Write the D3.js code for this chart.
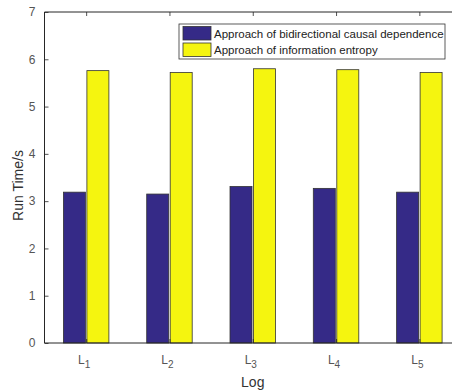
<html>
<head>
<script src="https://d3js.org/d3.v7.min.js"></script>
<style>
  body { margin: 0; background: #fff; }
  svg { font-family: "Liberation Sans", Arial, sans-serif; }
</style>
</head>
<body>
<div id="chart"></div>
<script>
var categories = ['1', '2', '3', '4', '5'];
var seriesNames = ['Approach of bidirectional causal dependence', 'Approach of information entropy'];
var causal = [3.19, 3.15, 3.31, 3.27, 3.19];
var entropy = [5.76, 5.72, 5.80, 5.78, 5.72];
var yTicks = [0, 1, 2, 3, 4, 5, 6, 7];
var colors = ['#352a87', '#f5f50f'];

var width = 452, height = 391;
// note: "top" is reserved on window, so use plot* names
var plotLeft = 44.5, plotRight = 461, plotTop = 12, plotBottom = 343;

var svg = d3.select('#chart').append('svg')
    .attr('width', width)
    .attr('height', height);

// category positions, xlim [0.5, 5.5] like matlab
var x = d3.scaleLinear().domain([0.5, 5.5]).range([plotLeft, plotRight]);
var y = d3.scaleLinear().domain([0, 7]).range([plotBottom, plotTop]);

var barW = x(0.264) - x(0);
var offset = x(0.141) - x(0);

var rows = categories.map(function(c, i) {
    return { cat: i + 1, label: c, vals: [causal[i], entropy[i]] };
});

var groups = svg.selectAll('g.grp').data(rows).enter().append('g');
groups.selectAll('rect').data(function(d) {
        return d.vals.map(function(v, k) { return { cat: d.cat, v: v, k: k }; });
    })
    .enter().append('rect')
    .attr('x', function(d) { return x(d.cat) + (d.k == 0 ? -offset : offset) - barW / 2; })
    .attr('y', function(d) { return y(d.v); })
    .attr('width', barW)
    .attr('height', function(d) { return y(0) - y(d.v); })
    .attr('fill', function(d) { return colors[d.k]; })
    .attr('stroke', '#333')
    .attr('stroke-width', 0.8);

// axes with inward ticks
var axisColor = '#262626';
var yAxis = svg.append('g')
    .attr('transform', 'translate(' + plotLeft + ',0)')
    .call(d3.axisLeft(y).tickValues(yTicks).tickSize(-4).tickPadding(9).tickFormat(d3.format('d')));
var xAxis = svg.append('g')
    .attr('transform', 'translate(0,' + plotBottom + ')')
    .call(d3.axisBottom(x).tickValues([1, 2, 3, 4, 5]).tickSize(-4).tickFormat(''));
var topAxis = svg.append('g')
    .attr('transform', 'translate(0,' + plotTop + ')')
    .call(d3.axisTop(x).tickValues([1, 2, 3, 4, 5]).tickSize(-4).tickFormat(''));

[yAxis, xAxis, topAxis].forEach(function(a) {
    a.select('.domain').attr('stroke', axisColor).attr('stroke-width', 1);
    a.selectAll('.tick line').attr('stroke', axisColor).attr('stroke-width', 0.8);
    a.selectAll('text').attr('fill', '#555').style('font-size', '12px');
});
yAxis.select('.domain').attr('d', 'M0,' + plotTop + 'V' + plotBottom);
xAxis.select('.domain').attr('d', 'M' + plotLeft + ',0H' + plotRight);
topAxis.select('.domain').attr('d', 'M' + plotLeft + ',0H' + plotRight);

// category labels with subscripts
rows.forEach(function(d) {
    var t = svg.append('text')
        .attr('x', x(d.cat) - 2)
        .attr('y', 364)
        .attr('text-anchor', 'middle')
        .attr('fill', '#555')
        .style('font-size', '12px');
    t.append('tspan').text('L');
    t.append('tspan').attr('dy', 4).style('font-size', '10px').text(d.label);
});

svg.append('text')
    .attr('x', x(3))
    .attr('y', 387)
    .attr('text-anchor', 'middle')
    .attr('fill', '#333')
    .style('font-size', '14px')
    .text('Log');

svg.append('text')
    .attr('transform', 'translate(23,' + ((plotTop + plotBottom) / 2 + 8) + ') rotate(-90)')
    .attr('text-anchor', 'middle')
    .attr('fill', '#333')
    .style('font-size', '14px')
    .text('Run Time/s');

// legend
var legend = svg.append('g');
legend.append('rect')
    .attr('x', 179).attr('y', 24)
    .attr('width', 266).attr('height', 35)
    .attr('fill', '#fff')
    .attr('stroke', '#333')
    .attr('stroke-width', 0.8);
seriesNames.forEach(function(name, k) {
    legend.append('rect')
        .attr('x', 183).attr('y', 26.5 + k * 16.5)
        .attr('width', 28).attr('height', 13.5)
        .attr('fill', colors[k])
        .attr('stroke', '#333')
        .attr('stroke-width', 0.8);
    legend.append('text')
        .attr('x', 214).attr('y', 37.8 + k * 16.5)
        .attr('fill', '#222')
        .style('font-size', '11.5px')
        .text(name);
});
</script>
</body>
</html>
